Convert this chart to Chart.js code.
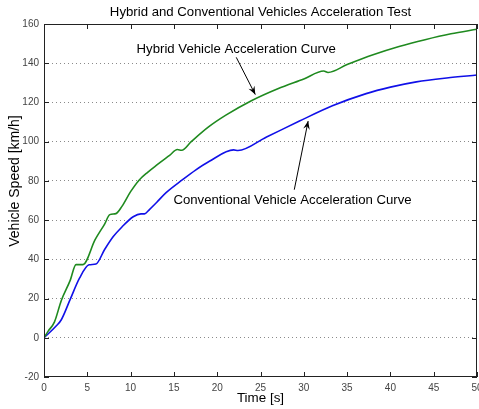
<!DOCTYPE html>
<html>
<head>
<meta charset="utf-8">
<script src="https://cdn.jsdelivr.net/npm/chart.js@4/dist/chart.umd.min.js"></script>
<style>
  html, body { margin:0; padding:0; background:#fff; overflow:hidden; }
  canvas { display:block; }
</style>
</head>
<body>
<canvas id="accelChart" width="479" height="409"></canvas>
<script>
// time axis ticks and y ticks
const xTicks = [0, 5, 10, 15, 20, 25, 30, 35, 40, 45, 50];
const yTicks = [-20, 0, 20, 40, 60, 80, 100, 120, 140, 160];

// hybrid vehicle (green)
const hybridTime  = [0, 0.5, 1.2, 2.0, 3.0, 3.7, 4.5, 5.9, 7.0, 7.6, 8.3, 9.0, 10.0, 11.0, 12.0, 13.0, 14.5, 15.4, 15.9, 17.0, 19.0, 21.0, 24.0, 27.0, 30.0, 32.3, 32.8, 35.0, 38.0, 41.0, 44.0, 47.0, 50.0];
const hybridSpeed = [0, 3.5, 8, 19, 29, 37.3, 37.3, 50, 58, 62.8, 63.3, 67, 74.5, 80.5, 84.5, 88, 93, 96.0, 95.6, 100, 107.5, 113.5, 121, 127, 132, 136, 135.3, 139.3, 144.3, 148.5, 152, 155, 157.3];

// conventional vehicle (blue)
const convTime  = [0, 1.4, 2.0, 3.0, 4.1, 5.2, 6.0, 7.0, 8.0, 9.0, 10.3, 11.2, 11.6, 12.2, 13.0, 14.1, 16.0, 17.5, 19.1, 21.9, 22.4, 25.7, 29.5, 33.3, 37.2, 40.0, 43.0, 46.5, 50.0];
const convSpeed = [0, 6, 9.2, 19.3, 30.4, 37.2, 37.6, 45, 51.6, 56.5, 61.7, 63.2, 63.2, 65.5, 69, 74, 80.6, 85.5, 90, 95.8, 95.5, 102.4, 110.5, 118.3, 124.5, 127.8, 130.5, 132.5, 134];

// annotation labels and arrows (data coordinates)
const notes = [
  { text: "Hybrid Vehicle Acceleration Curve", at: [22.2, 147], from: [22.2, 143], to: [24.4, 124] },
  { text: "Conventional Vehicle Acceleration Curve", at: [28.7, 70], from: [28.9, 75.5], to: [30.5, 110.5] }
];

const toPts = (xs, ys) => xs.map((x, i) => ({ x: x, y: ys[i] }));
const FONT = "'Liberation Sans', Arial, sans-serif";

const decor = {
  id: "decor",
  afterDraw(chart) {
    const ctx = chart.ctx;
    const a = chart.chartArea;
    const xs = chart.scales.x, ys = chart.scales.y;
    ctx.save();
    // box
    ctx.strokeStyle = "#222";
    ctx.lineWidth = 1;
    ctx.strokeRect(a.left + 0.5, a.top + 0.5, a.right - a.left - 1, a.bottom - a.top - 1);
    // inward ticks
    ctx.beginPath();
    xTicks.forEach(v => {
      const px = Math.round(xs.getPixelForValue(v)) + 0.5;
      ctx.moveTo(px, a.bottom); ctx.lineTo(px, a.bottom - 5);
      ctx.moveTo(px, a.top); ctx.lineTo(px, a.top + 5);
    });
    yTicks.forEach(v => {
      const py = Math.round(ys.getPixelForValue(v)) + 0.5;
      ctx.moveTo(a.left, py); ctx.lineTo(a.left + 5, py);
      ctx.moveTo(a.right, py); ctx.lineTo(a.right - 5, py);
    });
    ctx.stroke();

    // title + axis labels
    ctx.fillStyle = "#000";
    ctx.textAlign = "center";
    ctx.textBaseline = "middle";
    ctx.font = "13.2px " + FONT;
    ctx.fillText("Hybrid and Conventional Vehicles Acceleration Test", (a.left + a.right) / 2, 12);
    ctx.font = "13.4px " + FONT;
    ctx.fillText("Time [s]", (a.left + a.right) / 2, 398);
    ctx.font = "14px " + FONT;
    ctx.save();
    ctx.translate(15, 181);
    ctx.rotate(-Math.PI / 2);
    ctx.fillText("Vehicle Speed [km/h]", 0, 0);
    ctx.restore();

    // annotations
    ctx.font = "13.2px " + FONT;
    notes.forEach(n => {
      ctx.fillText(n.text, xs.getPixelForValue(n.at[0]), ys.getPixelForValue(n.at[1]));
      const x1 = xs.getPixelForValue(n.from[0]), y1 = ys.getPixelForValue(n.from[1]);
      const x2 = xs.getPixelForValue(n.to[0]), y2 = ys.getPixelForValue(n.to[1]);
      ctx.strokeStyle = "#000";
      ctx.lineWidth = 1;
      ctx.beginPath(); ctx.moveTo(x1, y1); ctx.lineTo(x2, y2); ctx.stroke();
      const ang = Math.atan2(y2 - y1, x2 - x1);
      const L = 9, W = 0.38;
      ctx.beginPath();
      ctx.moveTo(x2, y2);
      ctx.lineTo(x2 - L * Math.cos(ang - W), y2 - L * Math.sin(ang - W));
      ctx.lineTo(x2 - L * 0.6 * Math.cos(ang), y2 - L * 0.6 * Math.sin(ang));
      ctx.lineTo(x2 - L * Math.cos(ang + W), y2 - L * Math.sin(ang + W));
      ctx.closePath();
      ctx.fillStyle = "#000";
      ctx.fill();
    });
    ctx.restore();
  }
};

new Chart(document.getElementById("accelChart"), {
  type: "line",
  data: {
    datasets: [
      { label: "Hybrid", data: toPts(hybridTime, hybridSpeed), borderColor: "#1f8a1f", borderWidth: 1.6, pointRadius: 0, cubicInterpolationMode: "monotone" },
      { label: "Conventional", data: toPts(convTime, convSpeed), borderColor: "#1010e8", borderWidth: 1.6, pointRadius: 0, cubicInterpolationMode: "monotone" }
    ]
  },
  options: {
    responsive: false,
    animation: false,
    devicePixelRatio: 1,
    layout: { padding: { top: 24, right: 2, left: 0, bottom: 0 } },
    plugins: { legend: { display: false }, tooltip: { enabled: false } },
    scales: {
      x: {
        type: "linear", min: 0, max: 50,
        afterBuildTicks: s => { s.ticks = xTicks.map(v => ({ value: v })); },
        afterFit: s => { s.height = 32; s.paddingLeft = 0; s.paddingRight = 0; },
        grid: { display: false, drawTicks: false },
        border: { display: false },
        ticks: { padding: 5, color: "#444", font: { size: 10, family: FONT }, maxRotation: 0 }
      },
      y: {
        min: -20, max: 160,
        afterBuildTicks: s => { s.ticks = yTicks.map(v => ({ value: v })); },
        afterFit: s => { s.width = 44; s.paddingTop = 0; s.paddingBottom = 0; },
        grid: { color: ctx => (ctx.tick.value === -20 || ctx.tick.value === 160) ? "rgba(0,0,0,0)" : "#8a8a8a", drawTicks: false, lineWidth: 1 },
        border: { display: false, dash: [1, 3] },
        ticks: { padding: 5, color: "#444", font: { size: 10, family: FONT } }
      }
    }
  },
  plugins: [decor]
});
</script>
</body>
</html>
